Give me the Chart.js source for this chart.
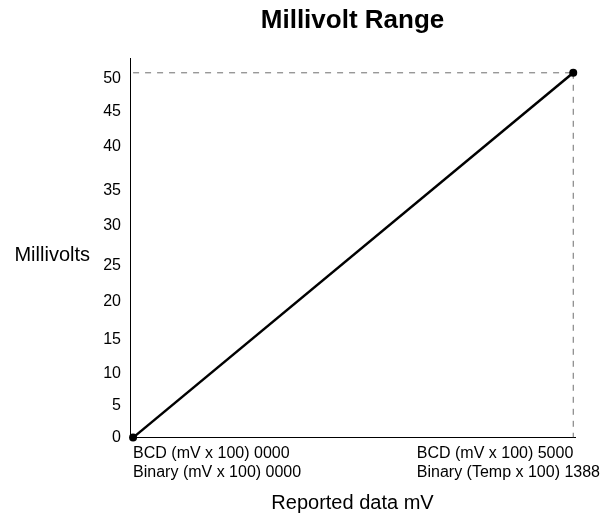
<!DOCTYPE html>
<html>
<head>
<meta charset="utf-8">
<script src="https://cdn.jsdelivr.net/npm/chart.js@4"></script>
<style>
html,body{margin:0;padding:0;background:#fff;}
#wrap{width:603px;height:518px;}
</style>
</head>
<body>
<div id="wrap"><canvas id="c"></canvas></div>
<script>
// Data
const bcdValues = [0, 5000];          // reported data (BCD, mV x 100)
const millivolts = [0, 50];           // millivolts
const xTickValues = [0, 5000];
const xTickLabels = [
  ['BCD (mV x 100) 0000', 'Binary (mV x 100) 0000'],
  ['BCD (mV x 100) 5000', 'Binary (Temp x 100) 1388']
];
// tick labels and the values where the original placed them on the axis
const yTickLabels = ['0','5','10','15','20','25','30','35','40','45','50'];
const yTickValues = [0, 4.4, 8.8, 13.5, 18.6, 23.6, 29.1, 33.9, 39.9, 44.7, 49.2];

const FONT = "'Liberation Sans', Helvetica, Arial, sans-serif";
Chart.defaults.font.family = FONT;
Chart.defaults.color = '#000';

const mainPts = bcdValues.map((x, i) => ({x: x, y: millivolts[i]}));
const last = mainPts[mainPts.length - 1];

// keep the last x-axis label block inside the canvas: left-aligned lines whose
// longest line ends at the canvas edge
const lastLabelPlugin = {
  id: 'lastLabel',
  beforeDraw(chart) {
    const s = chart.scales.x;
    const items = s.getLabelItems();
    if (!items.length) return;
    const it = items[items.length - 1];
    const ctx = chart.ctx;
    ctx.save();
    ctx.font = it.font.string;
    const lines = [].concat(it.label);
    const w = Math.max(...lines.map(l => ctx.measureText(l).width));
    ctx.restore();
    it.options.textAlign = 'left';
    it.options.translation = [chart.width - 3 - w, it.options.translation[1]];
  }
};

new Chart(document.getElementById('c'), {
  type: 'scatter',
  data: {
    datasets: [
      {
        data: mainPts,
        showLine: true,
        borderColor: '#000',
        backgroundColor: '#000',
        borderWidth: 2.5,
        pointRadius: 4,
        pointBackgroundColor: '#000',
        pointBorderWidth: 0,
        clip: false,
        order: 1
      },
      {
        data: [{x: bcdValues[0], y: last.y}, {x: last.x, y: last.y}],
        showLine: true,
        borderColor: '#6e6e6e',
        borderWidth: 1,
        borderDash: [6, 6],
        pointRadius: 0,
        order: 2
      },
      {
        data: [{x: last.x, y: last.y}, {x: last.x, y: millivolts[0]}],
        showLine: true,
        borderColor: '#6e6e6e',
        borderWidth: 1,
        borderDash: [6, 6],
        pointRadius: 0,
        order: 2
      }
    ]
  },
  plugins: [lastLabelPlugin],
  options: {
    responsive: true,
    maintainAspectRatio: false,
    animation: false,
    events: [],
    layout: {padding: {left: 6, right: 28, top: 0, bottom: 3}},
    plugins: {
      legend: {display: false},
      tooltip: {enabled: false},
      title: {
        display: true,
        text: 'Millivolt Range',
        fullSize: false,
        font: {size: 26, weight: 'bold', family: FONT},
        color: '#000',
        padding: {top: 5, bottom: 22}
      }
    },
    scales: {
      x: {
        type: 'linear',
        min: -35,
        max: 5020,
        grid: {display: false, drawTicks: false},
        border: {display: true, color: '#000', width: 1},
        afterBuildTicks: (s) => { s.ticks = xTickValues.map(v => ({value: v})); },
        ticks: {
          autoSkip: false,
          maxRotation: 0,
          align: 'inner',
          padding: 6,
          font: {size: 16},
          color: '#000',
          callback: (v, i) => xTickLabels[i]
        },
        title: {
          display: true,
          text: 'Reported data mV',
          font: {size: 20},
          color: '#000',
          padding: {top: 3, bottom: 0}
        }
      },
      y: {
        type: 'linear',
        min: 0,
        max: 52,
        grid: {display: false, drawTicks: false},
        border: {display: true, color: '#000', width: 1},
        afterBuildTicks: (s) => { s.ticks = yTickValues.map(v => ({value: v})); },
        afterFit: (s) => { s.width = 36; },
        ticks: {
          autoSkip: false,
          padding: 9,
          font: {size: 16},
          color: '#000',
          callback: (v, i) => yTickLabels[i]
        }
      },
      yTitle: {
        type: 'category',
        axis: 'y',
        position: 'left',
        weight: 1,
        labels: ['Millivolts'],
        offset: true,
        grid: {display: false, drawTicks: false},
        border: {display: false},
        afterFit: (s) => { s.width = 88; },
        ticks: {
          padding: 4,
          labelOffset: 8,
          font: {size: 20},
          color: '#000'
        }
      }
    }
  }
});
</script>
</body>
</html>
